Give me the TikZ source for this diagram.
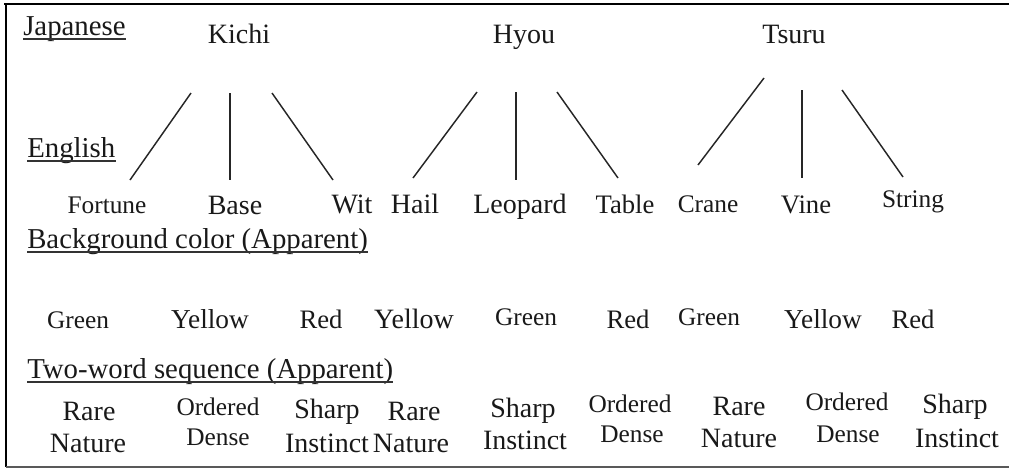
\documentclass[tikz,border=0pt]{standalone}
\usepackage{fontspec}
\setmainfont{Liberation Serif}
\begin{document}
\begin{tikzpicture}[x=0.75pt,y=-0.75pt,
  big/.style={inner sep=0pt, anchor=base, text=black!90, font=\fontsize{21}{21}\selectfont},
  small/.style={inner sep=0pt, anchor=base, text=black!90, font=\fontsize{19}{19}\selectfont},
  head/.style={inner sep=0pt, anchor=base west, text=black!90, font=\fontsize{21.6}{21}\selectfont},
  link/.style={line width=1.1pt, black!85},
  uline/.style={line width=0.8pt, black!80}]
\useasboundingbox (0,0) rectangle (1009,469);
% frame
\draw[line width=2.2pt] (4,4) -- (1009,4);
\draw[line width=1.8pt] (6,3) -- (6,467);
\draw[line width=1.2pt, black!65] (6,467) -- (1009,467);
% headings
\node[head] (jp) at (23,35) {Japanese};
\node[head] (en) at (27,157) {English};
\node[head] (bg) at (27,248) {Background color (Apparent)};
\node[head] (tw) at (27,378) {Two-word sequence (Apparent)};
\foreach \h in {jp,en,bg,tw}
  \draw[uline] ([yshift=-3pt]\h.base west) -- ([yshift=-3pt]\h.base east);
% Japanese words
\node[big] (kichi) at (239,43) {Kichi};
\node[big] (hyou) at (524,43) {Hyou};
\node[big] (tsuru) at (794,43) {Tsuru};
% line end points
\coordinate (k1a) at (191,93);  \coordinate (k1b) at (130,180);
\coordinate (k2a) at (230,93);  \coordinate (k2b) at (230,180);
\coordinate (k3a) at (272,93);  \coordinate (k3b) at (333,180);
\coordinate (h1a) at (477,92);  \coordinate (h1b) at (413,178);
\coordinate (h2a) at (516,92);  \coordinate (h2b) at (516,180);
\coordinate (h3a) at (557,92);  \coordinate (h3b) at (618,178);
\coordinate (t1a) at (764,78);  \coordinate (t1b) at (698,165);
\coordinate (t2a) at (802,90);  \coordinate (t2b) at (802,178);
\coordinate (t3a) at (842,90);  \coordinate (t3b) at (903,177);
\foreach \c in {k1,k2,k3,h1,h2,h3,t1,t2,t3}
  \draw[link] (\c a) -- (\c b);
% English words
\node[small] (fortune) at (107,213) {Fortune};
\node[big] (base) at (235,214) {Base};
\node[big] (wit) at (352,213) {Wit};
\node[big] (hail) at (415,213) {Hail};
\node[big] (leopard) at (520,213) {Leopard};
\node[big, font=\fontsize{20}{20}\selectfont] (table) at (625,213) {Table};
\node[small] (crane) at (708,212) {Crane};
\node[big, font=\fontsize{20}{20}\selectfont] (vine) at (806,213) {Vine};
\node[small] (string) at (913,207) {String};
% colours
\node[small] (c1) at (78,328) {Green};
\node[big, font=\fontsize{20.5}{20}\selectfont] (c2) at (210,328) {Yellow};
\node[big, font=\fontsize{20}{20}\selectfont] (c3) at (321,328) {Red};
\node[big] (c4) at (414,328) {Yellow};
\node[small] (c5) at (526,325) {Green};
\node[big, font=\fontsize{20}{20}\selectfont] (c6) at (628,328) {Red};
\node[small] (c7) at (709,325) {Green};
\node[big, font=\fontsize{20.5}{20}\selectfont] (c8) at (823,328) {Yellow};
\node[big, font=\fontsize{20}{20}\selectfont] (c9) at (913,328) {Red};
% two-word sequences
\node[big] (s1a) at (89,420) {Rare};      \node[big] (s1b) at (88,452) {Nature};
\node[small] (s2a) at (218,415) {Ordered}; \node[small] (s2b) at (218,445) {Dense};
\node[big] (s3a) at (327,418) {Sharp};    \node[big] (s3b) at (327,452) {Instinct};
\node[big] (s4a) at (414,420) {Rare};     \node[big] (s4b) at (411,452) {Nature};
\node[big] (s5a) at (523,417) {Sharp};    \node[big] (s5b) at (525,449) {Instinct};
\node[small] (s6a) at (630,412) {Ordered}; \node[small] (s6b) at (632,442) {Dense};
\node[big] (s7a) at (739,415) {Rare};     \node[big] (s7b) at (739,447) {Nature};
\node[small] (s8a) at (847,410) {Ordered}; \node[small] (s8b) at (848,442) {Dense};
\node[big] (s9a) at (955,413) {Sharp};    \node[big] (s9b) at (957,447) {Instinct};
\end{tikzpicture}
\end{document}
